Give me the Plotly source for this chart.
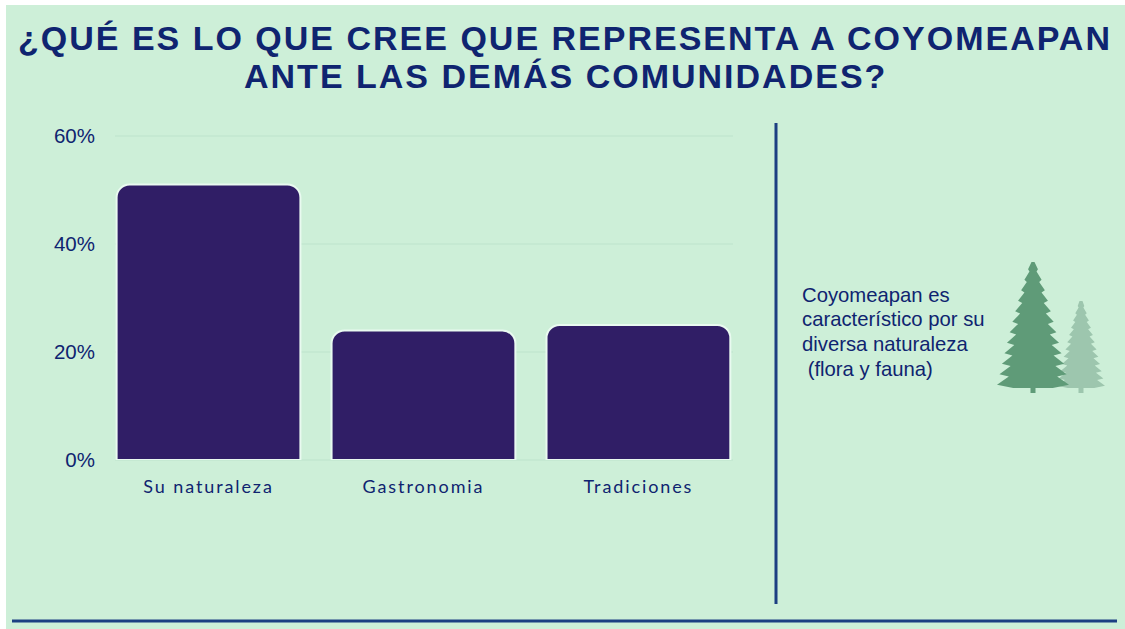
#!/usr/bin/env python

import plotly.graph_objects as go

W, H = 1125, 629
# plot area in pixels of the page
L, R, T, B = 115, 733, 125, 460

# Values
categories = ["Su naturaleza", "Gastronomia", "Tradiciones"]
values = [51, 24, 25]
y_ticks = [0, 20, 40, 60]
y_labels = ["0%", "20%", "40%", "60%"]
title_lines = ["¿QUÉ ES LO QUE CREE QUE REPRESENTA A COYOMEAPAN", "ANTE LAS DEMÁS COMUNIDADES?"]
side_lines = ["Coyomeapan es", "característico por su", "diversa naturaleza", "&nbsp;(flora y fauna)"]

BG = "#CDEFD8"
BAR = "#301E66"
NAVY = "#0F2470"
LINE = "#1C3F82"
GRID = "#C5E9D2"


def px(x):
  return (x - L) / (R - L)


def py(y):
  return (B - y) / (B - T)


def tree_path(cx, top, bottom, half):
  # jagged fir outline, drawn in pixels and converted to paper coordinates
  tiers = 12
  trunk_top = bottom - 5
  step = (trunk_top - top) / tiers
  right = []
  for i in range(1, tiers + 1):
    wide = half * (i / tiers) ** 0.8
    right.append((wide, top + step * i - step * 0.3))
    right.append((wide * 0.72, top + step * i - step * 0.1))
  pts = [(cx - 1.5, top), (cx + 1.5, top)]
  pts += [(cx + a, b) for a, b in right[:-1]]
  pts += [(cx + half * 0.55, trunk_top), (cx + 2.5, trunk_top), (cx + 2.5, bottom),
          (cx - 2.5, bottom), (cx - 2.5, trunk_top), (cx - half * 0.55, trunk_top)]
  pts += [(cx - a, b) for a, b in right[:-1][::-1]]
  return "M " + " L ".join(f"{px(a):.5f} {py(b):.5f}" for a, b in pts) + " Z"


fig = go.Figure()

fig.add_trace(go.Bar(
  x=categories,
  y=values,
  width=0.855,
  marker=dict(color=BAR, cornerradius=13, line=dict(color="#E9FAF0", width=2)),
  hoverinfo="skip",
  showlegend=False
))

shapes = [
  # panel
  dict(type="rect", xref="paper", yref="paper", x0=px(6), x1=px(W), y0=py(5), y1=py(H),
       fillcolor=BG, line_width=0, layer="below"),
  # dividers
  dict(type="line", xref="paper", yref="paper", x0=px(776), x1=px(776), y0=py(123), y1=py(604),
       line=dict(color=LINE, width=3)),
  dict(type="line", xref="paper", yref="paper", x0=px(12), x1=px(1117), y0=py(621), y1=py(621),
       line=dict(color=LINE, width=3)),
  # trees
  dict(type="path", xref="paper", yref="paper", path=tree_path(1081, 301, 393, 24),
       fillcolor="#9DC6AE", line_width=0),
  dict(type="path", xref="paper", yref="paper", path=tree_path(1033, 262, 393, 36),
       fillcolor="#5F9B78", line_width=0),
]

annotations = []
side_y = [295, 319, 344, 369]
for text, yy in zip(side_lines, side_y):
  annotations.append(dict(
    text=text, xref="paper", yref="paper", x=px(802), y=py(yy),
    xanchor="left", yanchor="middle", showarrow=False, align="left", xshift=-2,
    font=dict(family="Liberation Sans", size=20.3, color=NAVY)
  ))
title_y = [38, 76]
for text, yy in zip(title_lines, title_y):
  annotations.append(dict(
    text=text, xref="paper", yref="paper", x=px(565), y=py(yy),
    xanchor="center", yanchor="middle", showarrow=False,
    font=dict(family="Liberation Sans", size=34, color=NAVY, weight="bold")
  ))

fig.update_layout(
  width=W,
  height=H,
  margin=dict(l=L, r=W - R, t=T, b=H - B, pad=0),
  paper_bgcolor="white",
  plot_bgcolor="rgba(0,0,0,0)",
  shapes=shapes,
  annotations=annotations,
  xaxis=dict(
    range=[-0.435, 2.44], showgrid=False, zeroline=False, showline=False,
    ticks="", ticklabelstandoff=14,
    tickfont=dict(family="Lato", size=18, color=NAVY)
  ),
  yaxis=dict(
    range=[0, 62.04], tickvals=y_ticks, ticktext=y_labels, showgrid=True, gridcolor=GRID, gridwidth=2,
    zeroline=True, zerolinecolor=GRID, zerolinewidth=2, showline=False, ticks="", ticklabelstandoff=19,
    tickfont=dict(family="Liberation Sans", size=20.5, color=NAVY)
  )
)

# plotly has no letter spacing attribute, so it is set on the drawn text
post = """
document.body.style.margin = '0';
document.querySelectorAll('.xtick text').forEach(t => t.style.letterSpacing = '1.9px');
document.querySelectorAll('.annotation[data-index="4"] text, .annotation[data-index="5"] text')
  .forEach(t => t.style.letterSpacing = '2px');
"""
fig.write_html("out.html", post_script=post, config={"displayModeBar": False})
